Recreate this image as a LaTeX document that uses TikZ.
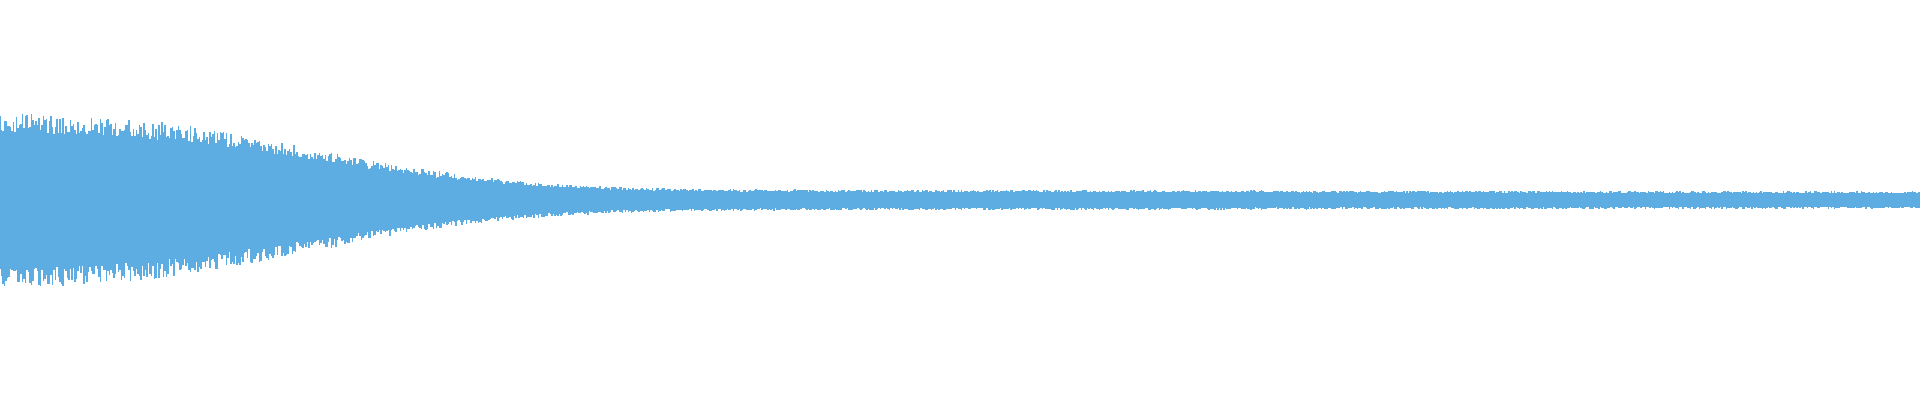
\documentclass[tikz,border=0pt]{standalone}
\definecolor{wave}{HTML}{5DADE2}
\begin{document}
\begin{tikzpicture}[x=1pt,y=1pt,wavebar/.style={draw=wave,line width=1.3pt}]
\useasboundingbox[fill=white] (0,0) rectangle (1920,400);
\pgfmathsetseed{7}
\foreach \x in {0,1.5,...,1920}{
  \pgfmathsetmacro\a{8+3*(1-\x/1920)+70*exp(-(\x/380)^2.5)}
  \pgfmathsetmacro\t{\a*(0.82+0.25*rnd)}
  \pgfmathsetmacro\b{\a*(0.82+0.25*rnd)}
  \draw[wavebar] (\x,200+\t) -- (\x,200-\b);
}
\end{tikzpicture}
\end{document}
